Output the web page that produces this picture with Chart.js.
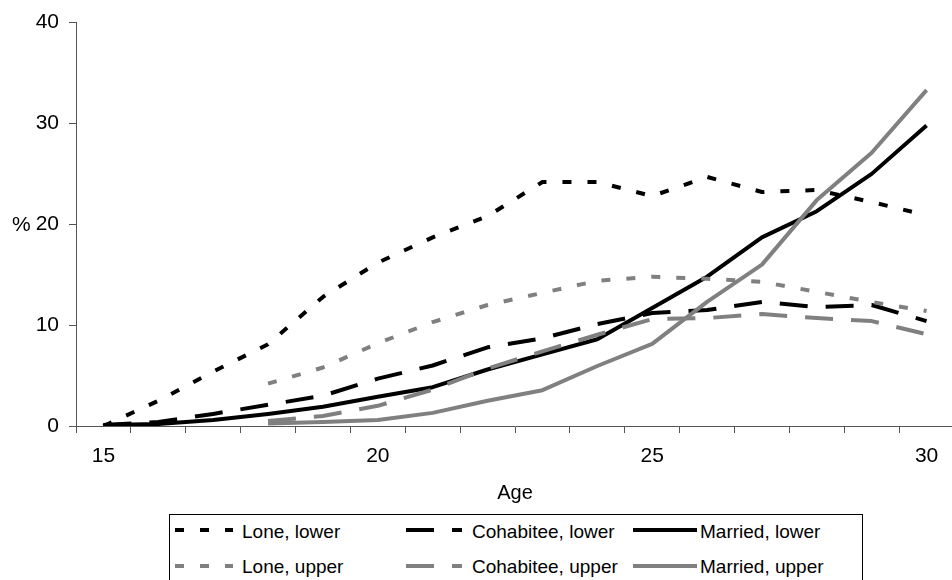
<!DOCTYPE html>
<html><head><meta charset="utf-8">
<script src="https://cdn.jsdelivr.net/npm/chart.js@4"></script>
<style>
html,body{margin:0;padding:0;background:#fff;overflow:hidden;width:952px;height:580px;}
#wrap{position:absolute;left:0;top:0;width:960px;height:510px;}
#legendBox{position:absolute;left:169px;top:514px;width:694px;height:80px;border:1px solid #000;box-sizing:border-box;}
.lg{position:absolute;font:19px "Liberation Sans",Arial,sans-serif;color:#000;white-space:nowrap;line-height:24px;height:24px;}
svg{position:absolute;}
</style></head>
<body>
<div id="wrap"><canvas id="c" width="960" height="510"></canvas></div>
<div id="legendBox"></div>
<script>
// ---- data ----
const ages = ['15','16','17','18','19','20','21','22','23','24','25','26','27','28','29','30'];
const yTicks = [0, 10, 20, 30, 40];
const seriesNames = ['Lone, lower','Cohabitee, lower','Married, lower','Lone, upper','Cohabitee, upper','Married, upper'];
const loneLower    = [0, 2.5, 5.4, 8.1, 12.8, 16.2, 18.7, 20.8, 24.2, 24.2, 22.8, 24.7, 23.2, 23.4, 22.2, 20.9];
const cohabLower   = [0.1, 0.4, 1.2, 2.1, 3.0, 4.7, 6.0, 7.8, 8.7, 10.1, 11.2, 11.5, 12.3, 11.8, 12.0, 10.4];
const marriedLower = [0.1, 0.2, 0.6, 1.2, 1.9, 2.9, 3.85, 5.6, 7.1, 8.6, 11.7, 14.8, 18.7, 21.3, 25.0, 29.8];
const loneUpper    = [null, null, null, 4.2, 5.8, 8.2, 10.3, 12.0, 13.2, 14.4, 14.8, 14.6, 14.3, 13.3, 12.3, 11.4];
const cohabUpper   = [null, null, null, 0.5, 1.0, 2.0, 3.6, 5.7, 7.4, 9.05, 10.6, 10.7, 11.1, 10.7, 10.4, 9.1];
const marriedUpper = [null, null, null, 0.25, 0.4, 0.6, 1.3, 2.5, 3.55, 5.95, 8.15, 12.3, 16.0, 22.4, 27.1, 33.3];

// ---- styles ----
const FONT = '"Liberation Sans", Arial, sans-serif';
const BLACK = '#000000', GRAY = '#808080', AXIS = '#555555';
const DOT = [9, 16], DASH = [28, 18], SOLID = [];
const seriesData = [loneLower, cohabLower, marriedLower, loneUpper, cohabUpper, marriedUpper];
const seriesColor = [BLACK, BLACK, BLACK, GRAY, GRAY, GRAY];
const seriesDash = [DOT, DASH, SOLID, DOT, DASH, SOLID];

const datasets = seriesData.map((d, i) => ({
  label: seriesNames[i],
  data: d,
  borderColor: seriesColor[i],
  borderDash: seriesDash[i],
  borderWidth: 4,
  borderCapStyle: 'butt',
  borderJoinStyle: 'round',
  pointRadius: 0,
  tension: 0,
  fill: false,
  spanGaps: false,
  order: 5 - i
}));

const pctPlugin = {
  id: 'pct',
  afterDraw(chart) {
    const y = chart.scales.y.getPixelForValue(20);
    const ctx = chart.ctx;
    ctx.save();
    ctx.font = '21px ' + FONT;
    ctx.fillStyle = '#000';
    ctx.textAlign = 'left';
    ctx.textBaseline = 'middle';
    ctx.fillText('%', 12, y + 1);
    ctx.restore();
  }
};

const chart = new Chart(document.getElementById('c'), {
  type: 'line',
  data: { labels: ages, datasets },
  options: {
    responsive: false,
    animation: false,
    devicePixelRatio: 1,
    layout: { padding: { left: 0, top: 16, right: 6, bottom: 4 } },
    plugins: { legend: { display: false }, tooltip: { enabled: false } },
    scales: {
      x: {
        type: 'category',
        offset: true,
        grid: { offset: true, drawOnChartArea: false, drawTicks: true, tickLength: 7, color: AXIS, lineWidth: 1 },
        border: { display: true, color: AXIS, width: 1 },
        ticks: {
          autoSkip: false, maxRotation: 0, minRotation: 0, padding: 11, color: '#000',
          font: { family: FONT, size: 21 },
          callback: function (v, i) { const a = ages[i]; return (Number(a) % 5 === 0) ? a : ''; }
        },
        title: { display: true, text: 'Age', color: '#000', font: { family: FONT, size: 20 }, padding: { top: 0, bottom: 1 } },
        afterFit(s) { s.height = 80; }
      },
      y: {
        min: yTicks[0], max: yTicks[yTicks.length - 1],
        afterBuildTicks(s) { s.ticks = yTicks.map(v => ({ value: v })); },
        grid: { drawOnChartArea: false, drawTicks: true, tickLength: 7, color: AXIS, lineWidth: 1 },
        border: { display: true, color: AXIS, width: 1 },
        ticks: { padding: 10, color: '#000', font: { family: FONT, size: 21 } },
        afterFit(s) { s.width = 76; }
      }
    }
  },
  plugins: [pctPlugin]
});

// ---- legend built from the chart's datasets ----
const colSample = [175, 406, 633];
const colSampleW = [58, 56, 64];
const colText = [242, 472, 700];
const rowSampleMid = [529.5, 566];
const rowTextTop = [520, 555];
chart.data.datasets.forEach((ds, i) => {
  const row = i < 3 ? 0 : 1, col = i % 3;
  const w = colSampleW[col];
  const ns = 'http://www.w3.org/2000/svg';
  const svg = document.createElementNS(ns, 'svg');
  svg.setAttribute('width', w); svg.setAttribute('height', 8);
  svg.style.left = colSample[col] + 'px';
  svg.style.top = (rowSampleMid[row] - 4) + 'px';
  const ln = document.createElementNS(ns, 'line');
  ln.setAttribute('x1', 0); ln.setAttribute('y1', 4);
  ln.setAttribute('x2', w); ln.setAttribute('y2', 4);
  ln.setAttribute('stroke', ds.borderColor);
  ln.setAttribute('stroke-width', 4);
  if (ds.borderDash.length) ln.setAttribute('stroke-dasharray', ds.borderDash.join(' '));
  svg.appendChild(ln);
  document.body.appendChild(svg);
  const t = document.createElement('div');
  t.className = 'lg';
  t.textContent = ds.label;
  t.style.left = colText[col] + 'px';
  t.style.top = rowTextTop[row] + 'px';
  document.body.appendChild(t);
});
</script>
</body></html>
